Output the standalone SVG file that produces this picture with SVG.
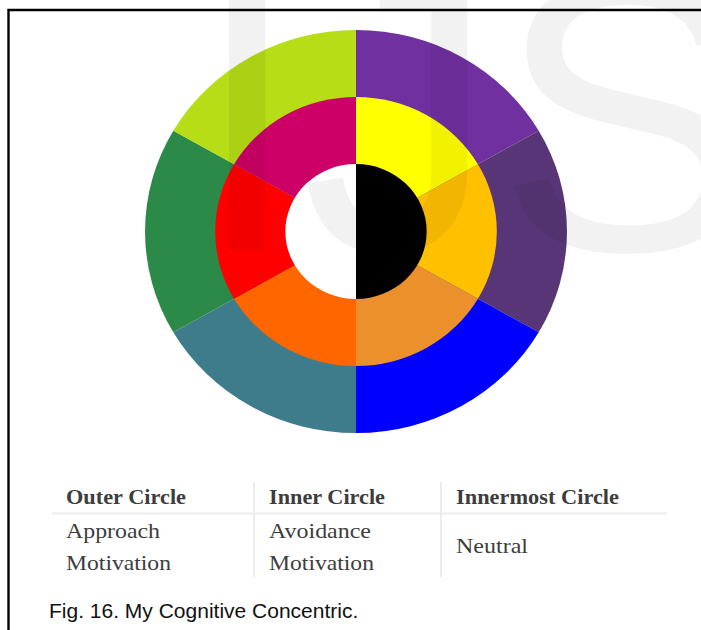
<svg xmlns="http://www.w3.org/2000/svg" width="701" height="630" viewBox="0 0 701 630">
<style>
.hdr{font-family:"Liberation Serif","Times New Roman",serif;font-weight:bold;font-size:22px;fill:#3d3d3d}
.cell{font-family:"Liberation Serif","Times New Roman",serif;font-size:22px;fill:#3d3d3d}
.cap{font-family:"Liberation Sans",Arial,sans-serif;font-size:21px;fill:#111}
.sep{stroke:#ececec;stroke-width:2;fill:none}
.wm{font-family:"Liberation Sans",Arial,sans-serif;font-size:390px;fill:#000;fill-opacity:0.051}
</style>
<rect width="701" height="630" fill="#fff"/>
<g id="frame" fill="none" stroke="#000" stroke-width="2.4">
<path d="M8.5 630 V10 H701"/>
</g>
<g id="concentric" transform="translate(356 231.5) scale(1.047 1)">
<g id="outer-circle">
<path fill="#7030a0" d="M0 0 L0 -201.5 A201.5 201.5 0 0 1 174.5 -100.75 Z"/>
<path fill="#583577" d="M0 0 L174.5 -100.75 A201.5 201.5 0 0 1 174.5 100.75 Z"/>
<path fill="#0000fe" d="M0 0 L174.5 100.75 A201.5 201.5 0 0 1 0 201.5 Z"/>
<path fill="#3e7c8c" d="M0 0 L0 201.5 A201.5 201.5 0 0 1 -174.5 100.75 Z"/>
<path fill="#2b8a47" d="M0 0 L-174.5 100.75 A201.5 201.5 0 0 1 -174.5 -100.75 Z"/>
<path fill="#b6dd16" d="M0 0 L-174.5 -100.75 A201.5 201.5 0 0 1 0 -201.5 Z"/>
</g>
<g id="inner-circle">
<path fill="#ffff00" d="M0 0 L0 -134.5 A134.5 134.5 0 0 1 116.48 -67.25 Z"/>
<path fill="#ffc000" d="M0 0 L116.48 -67.25 A134.5 134.5 0 0 1 116.48 67.25 Z"/>
<path fill="#ec902b" d="M0 0 L116.48 67.25 A134.5 134.5 0 0 1 0 134.5 Z"/>
<path fill="#ff6600" d="M0 0 L0 134.5 A134.5 134.5 0 0 1 -116.48 67.25 Z"/>
<path fill="#ff0000" d="M0 0 L-116.48 67.25 A134.5 134.5 0 0 1 -116.48 -67.25 Z"/>
<path fill="#cc0066" d="M0 0 L-116.48 -67.25 A134.5 134.5 0 0 1 0 -134.5 Z"/>
</g>
<g id="innermost-circle">
<path fill="#ffffff" d="M0 -67.5 A67.5 67.5 0 0 0 0 67.5 Z"/>
<path fill="#000000" d="M0 -67.5 A67.5 67.5 0 0 1 0 67.5 Z"/>
</g>
</g>
<text class="wm" x="193" y="250">IJS</text>
<g id="table">
<g id="table-lines">
<line class="sep" x1="52" y1="513.5" x2="667" y2="513.5"/>
<line class="sep" x1="254" y1="482" x2="254" y2="577"/>
<line class="sep" x1="441" y1="482" x2="441" y2="577"/>
</g>
<g id="col-outer">
<text class="hdr" x="66" y="504" textLength="120" lengthAdjust="spacingAndGlyphs">Outer Circle</text>
<text class="cell" x="66" y="538" textLength="94" lengthAdjust="spacingAndGlyphs">Approach</text>
<text class="cell" x="66" y="570" textLength="105" lengthAdjust="spacingAndGlyphs">Motivation</text>
</g>
<g id="col-inner">
<text class="hdr" x="269" y="504" textLength="116" lengthAdjust="spacingAndGlyphs">Inner Circle</text>
<text class="cell" x="269" y="538" textLength="102" lengthAdjust="spacingAndGlyphs">Avoidance</text>
<text class="cell" x="269" y="570" textLength="105" lengthAdjust="spacingAndGlyphs">Motivation</text>
</g>
<g id="col-innermost">
<text class="hdr" x="456" y="504" textLength="163" lengthAdjust="spacingAndGlyphs">Innermost Circle</text>
<text class="cell" x="456" y="553" textLength="72" lengthAdjust="spacingAndGlyphs">Neutral</text>
</g>
</g>
<text class="cap" x="49" y="618">Fig. 16. My Cognitive Concentric.</text>
</svg>
